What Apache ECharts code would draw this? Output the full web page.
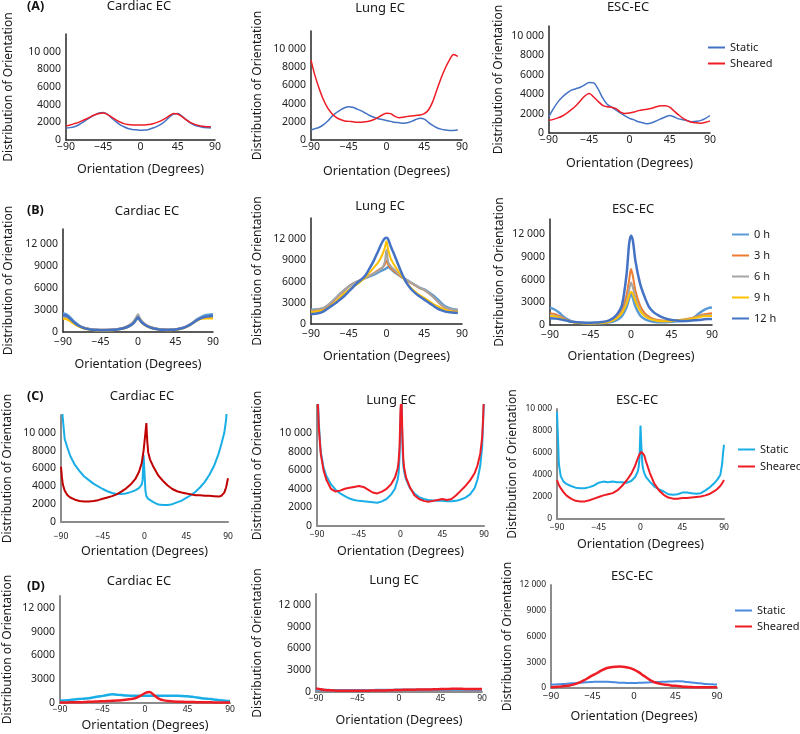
<!DOCTYPE html>
<html><head><meta charset="utf-8">
<script src="https://cdn.jsdelivr.net/npm/echarts@6/dist/echarts.min.js"></script>
<style>html,body{margin:0;padding:0;background:#fff}#c{width:800px;height:734px}</style>
</head><body><div id="c"></div>
<script>
// ---------- DATA ----------
const DEG5 = [-90,-85,-80,-75,-70,-65,-60,-55,-50,-45,-40,-35,-30,-25,-20,-15,-10,-5,0,5,10,15,20,25,30,35,40,45,50,55,60,65,70,75,80,85,90];
const DEGB = [-90,-85,-80,-75,-70,-65,-60,-55,-50,-45,-40,-35,-30,-25,-20,-15,-10,-5,-2,0,2,5,10,15,20,25,30,35,40,45,50,55,60,65,70,75,80,85,90];
const DEGC = [-90,-89,-88,-86,-83,-80,-75,-70,-65,-60,-55,-50,-45,-40,-35,-30,-25,-20,-15,-10,-6,-3,-2,-1,0,1,2,3,4,6,10,15,20,25,30,35,40,45,50,55,60,65,70,75,80,83,86,88,89,90];

// (A) static vs sheared
const a1Static  = [1350,1400,1500,1700,2000,2300,2600,2850,3050,3100,2900,2500,2100,1750,1500,1300,1200,1150,1100,1120,1200,1350,1550,1800,2150,2600,2950,3000,2700,2300,1950,1700,1550,1450,1400,1350,null];
const a1Sheared = [1600,1700,1850,2000,2200,2400,2650,2850,3000,3050,2900,2600,2300,2050,1850,1750,1700,1700,1700,1700,1750,1850,2000,2200,2450,2750,3000,2950,2650,2300,2000,1800,1650,1550,1500,1500,null];
const a2Static  = [1100,1250,1400,1700,2100,2600,3000,3300,3550,3650,3600,3400,3200,2950,2700,2500,2350,2250,2150,2050,1950,1900,1850,1900,2050,2250,2400,2300,1950,1600,1350,1200,1100,1050,1050,1100,null];
const a2Sheared = [8800,7000,5600,4400,3500,2900,2500,2250,2100,2050,2000,1950,1950,2000,2100,2250,2500,2750,2950,2900,2600,2450,2500,2600,2650,2700,2750,2900,3300,4200,5500,6800,7900,8800,9400,9200,null];
const a3Static  = [1700,2500,3200,3700,4100,4400,4550,4700,4950,5200,5150,4500,3600,2950,2650,2350,2050,1750,1500,1350,1150,1050,950,1050,1250,1450,1650,1800,1650,1450,1350,1250,1150,1200,1300,1500,1800];
const a3Sheared = [1300,1400,1550,1750,2050,2400,2800,3300,3800,4050,3700,3250,2850,2700,2650,2500,2150,2000,2050,2150,2300,2400,2450,2550,2700,2800,2800,2650,2250,1850,1500,1250,1100,1050,1000,1100,1250];

// (B) time course 0-12 h
const b1h0  = [2500,2350,1800,1250,850,600,450,350,300,280,270,280,300,350,450,600,850,1300,1800,2100,1700,1250,850,620,470,380,320,300,310,350,450,600,850,1200,1650,2000,2250,2350,2400];
const b1h3  = [1900,1800,1450,1050,780,580,440,360,310,290,290,300,330,400,500,680,950,1450,1950,2250,1850,1400,950,680,510,410,360,340,350,390,480,630,880,1220,1580,1850,1950,1950,1950];
const b1h6  = [2050,1950,1550,1100,800,590,450,360,310,290,290,300,330,400,510,700,980,1500,2050,2400,1950,1450,980,700,520,420,360,340,350,390,480,640,900,1250,1620,1900,2050,2100,2100];
const b1h9  = [1800,1700,1350,950,680,480,350,270,220,200,200,210,240,300,390,550,800,1250,1700,2000,1600,1200,800,550,400,310,260,240,250,290,380,530,780,1120,1480,1750,1850,1850,1850];
const b1h12 = [2300,2150,1650,1150,780,530,390,300,260,250,250,260,290,340,430,580,830,1250,1700,2000,1650,1250,850,600,440,350,300,280,290,330,430,580,820,1150,1550,1850,2050,2150,2200];
const b2h0  = [2000,2050,2100,2200,2600,3100,3700,4300,4800,5300,5700,6000,6250,6500,6750,7000,7300,7600,7750,7900,8050,7800,7300,6900,6500,6150,5800,5450,5100,4900,4500,4100,3600,3000,2500,2250,2100,2000,null];
const b2h3  = [1900,1950,2000,2150,2550,3050,3650,4250,4800,5300,5700,6000,6250,6550,6850,7200,7600,8000,8400,9000,8400,7900,7400,6900,6500,6100,5750,5400,5050,4800,4400,3900,3300,2700,2300,2100,1950,1900,null];
const b2h6  = [2000,2050,2150,2300,2700,3200,3750,4350,4850,5300,5700,6000,6250,6550,6850,7150,7500,7950,8800,10500,8800,8200,7600,7000,6600,6200,5800,5450,5100,4850,4400,3900,3300,2750,2350,2150,2050,2000,null];
const b2h9  = [1700,1750,1850,1950,2300,2700,3200,3800,4350,4800,5250,5650,6100,6650,7300,8000,8700,9800,10800,11700,10500,9300,8200,7300,6500,5700,5000,4500,4050,3700,3300,2900,2550,2250,2000,1850,1750,1700,null];
const b2h12 = [1400,1450,1550,1800,2200,2600,3000,3500,4000,4600,5200,5800,6300,6900,7900,9000,10300,11600,12100,12200,12000,11000,9600,8100,6700,5600,4850,4300,3850,3450,3050,2650,2250,1950,1750,1650,1600,1550,null];
const b3h0  = [2300,2050,1650,1100,700,450,320,260,230,220,220,230,260,320,450,700,1200,2300,3500,4200,3600,2400,1300,800,550,420,370,350,380,420,480,520,560,700,1000,1500,1900,2200,2300];
const b3h3  = [1550,1450,1200,900,600,400,300,250,230,220,230,250,300,420,650,1100,2000,3900,6000,7400,6500,4500,2600,1600,1100,800,650,580,560,570,620,680,750,850,1000,1200,1400,1500,1550];
const b3h6  = [1300,1250,1050,800,550,380,290,250,230,220,230,250,300,410,620,1000,1700,3100,4700,5600,5000,3600,2100,1300,900,680,560,510,500,520,570,630,700,800,930,1100,1250,1300,1300];
const b3h9  = [1200,1150,980,750,520,360,280,240,220,210,220,240,290,400,600,950,1600,2800,3900,4400,4100,3100,1900,1200,850,650,540,500,490,510,560,620,680,760,880,1020,1150,1200,1200];
const b3h12 = [880,850,800,650,530,420,350,320,300,300,320,360,440,580,880,1500,2650,6600,10800,11800,11200,8400,5500,3750,2400,1700,1300,1000,800,660,580,540,530,560,620,660,740,800,800];

// (C) static vs sheared
const c1Static  = [14000,13000,11500,9300,8300,7400,6400,5700,5100,4700,4300,4000,3700,3450,3250,3150,3150,3200,3350,3550,3800,4200,4700,7500,5500,3500,2900,2700,2600,2450,2200,1950,1900,1900,2000,2200,2400,2700,3000,3400,3900,4500,5300,6300,7700,8800,10000,11500,13000,14000];
const c1Sheared = [6200,5000,4200,3500,3000,2750,2500,2350,2300,2300,2350,2450,2600,2750,2900,3100,3400,3750,4200,4800,5600,6600,7300,8000,9000,10000,11100,9000,7800,7000,6100,5200,4600,4100,3700,3450,3300,3200,3100,3000,3000,2950,2950,2900,2850,2950,3300,3900,4400,4900];
const c2Static  = [14000,13500,11000,8000,6300,5400,4500,3900,3500,3200,2950,2800,2700,2650,2600,2550,2500,2650,2900,3400,4000,5000,5700,7500,11500,14000,9000,6500,5800,5000,4100,3500,3100,2900,2800,2750,2700,2700,2650,2650,2700,2850,3050,3400,4100,5000,6500,8500,11000,14000];
const c2Sheared = [14000,13000,10500,7800,6000,5000,4000,3700,3800,4000,4100,4200,4300,4200,3900,3600,3500,3700,4000,4500,5200,6200,7000,8500,12500,14000,10000,7200,6200,5200,4200,3300,2900,2700,2600,2700,2800,2900,2800,2900,3300,3800,4300,4900,5700,6500,7800,9500,11500,14000];
const c3Static  = [9750,7500,5000,3900,3400,3200,3000,2850,2800,2800,2900,3050,3300,3400,3350,3400,3350,3350,3300,3450,3800,4300,4700,5600,8500,6500,5000,4500,4200,3800,3400,2950,2700,2500,2250,2200,2250,2400,2400,2350,2300,2350,2600,2900,3300,3600,4000,5000,6000,6750];
const c3Sheared = [3550,3300,3100,2800,2450,2150,1850,1650,1600,1600,1700,1850,2000,2150,2250,2350,2600,3000,3500,4100,4800,5500,5700,5900,6000,6100,6100,6000,5800,5200,4200,3200,2600,2200,1950,1850,1850,1900,1900,1950,2000,2050,2150,2300,2550,2750,3000,3250,3400,3550];

// (D) static vs sheared
const d1Static  = [280,320,370,430,490,550,610,700,810,900,1000,1100,1050,1000,950,930,930,920,900,900,900,900,900,900,900,900,870,850,780,700,610,550,490,420,340,280,240];
const d1Sheared = [50,60,80,90,100,120,150,170,200,220,250,280,300,350,420,500,620,900,1250,1380,930,530,330,250,200,170,150,130,120,110,100,90,80,70,60,55,50];
const d2Static  = [350,300,280,260,250,250,250,250,250,250,250,250,250,260,260,270,280,290,300,300,300,300,300,300,300,300,300,300,300,300,300,300,300,300,300,300,300];
const d2Sheared = [500,380,280,230,200,180,170,170,170,170,170,180,190,200,210,220,240,260,280,300,310,320,330,340,350,360,380,400,420,430,440,440,430,420,420,420,420];
const d3Static  = [400,420,450,480,520,560,600,640,680,710,740,740,720,700,660,620,600,580,580,600,620,650,680,700,720,740,760,780,780,740,680,620,560,500,460,430,400];
const d3Sheared = [80,120,160,220,300,420,600,850,1150,1470,1750,2050,2300,2420,2480,2500,2450,2350,2150,1850,1470,1100,780,580,450,370,300,250,200,150,120,100,90,80,80,80,80];

const TITLES = ['Cardiac EC','Lung EC','ESC-EC'];
const PANEL_LABELS = ['(A)','(B)','(C)','(D)'];
const NAMES_AD = ['Static','Sheared'];
const NAMES_B = ['0 h','3 h','6 h','9 h','12 h'];
const X_NAME = 'Orientation (Degrees)';
const Y_NAME = 'Distribution of Orientation';

// ---------- STYLE / LAYOUT ----------
const FONT = '"Noto Sans","Open Sans",sans-serif';
const BLUE_A = '#4472C4', RED = '#EE1C25', CYAN = '#1AAEE6', DARKRED = '#C00000';
const B_COLORS = ['#5B9BD5','#ED7D31','#A5A5A5','#FFC000','#4472C4'];

const panels = [
 // row A
 {t:0,tx:139,ty:8,g:[66,34,149,106],max:12000,lmax:10000,iv:2000,ax:'#262626',aw:1.5,yl:10.5,xl:10.5,xm:2,xg:23,yg:51,deg:DEG5,
  s:[[a1Static,BLUE_A,1.5],[a1Sheared,RED,1.5]],smooth:0.3},
 {t:1,tx:380,ty:10,g:[311,31,151,109],max:12000,lmax:10000,iv:2000,ax:'#262626',aw:1.5,yl:10.5,xl:10.5,xm:2,xg:25,yg:47,deg:DEG5,
  s:[[a2Static,BLUE_A,1.5],[a2Sheared,RED,1.5]],smooth:0.3},
 {t:2,tx:628,ty:9,g:[549,26,161,107],max:11000,lmax:10000,iv:2000,ax:'#262626',aw:1.5,yl:10.5,xl:10.5,xm:2,xg:24,yg:44,deg:DEG5,
  s:[[a3Static,BLUE_A,1.5],[a3Sheared,RED,1.5]],smooth:0.3},
 // row B
 {t:0,tx:147,ty:213,g:[63,229,150,103],max:14000,lmax:12000,iv:3000,ax:'#262626',aw:1.5,yl:10.5,xl:10.5,xm:5,xg:26,yg:48,deg:DEGB,
  s:[[b1h0,B_COLORS[0],2.5],[b1h3,B_COLORS[1],2],[b1h6,B_COLORS[2],2],[b1h9,B_COLORS[3],2],[b1h12,B_COLORS[4],2.5]],smooth:0.3},
 {t:1,tx:380,ty:208,g:[311,218,151,106],max:15000,lmax:12000,iv:3000,ax:'#262626',aw:1.5,yl:10.5,xl:10.5,xm:5,xg:26,yg:47,deg:DEGB,
  s:[[b2h0,B_COLORS[0],2.5],[b2h3,B_COLORS[1],2],[b2h6,B_COLORS[2],2],[b2h9,B_COLORS[3],2],[b2h12,B_COLORS[4],2.5]],smooth:0.3},
 {t:2,tx:633,ty:211,g:[550,219,162,106],max:14000,lmax:12000,iv:3000,ax:'#262626',aw:1.5,yl:10.5,xl:10.5,xm:5,xg:25,yg:44,deg:DEGB,
  s:[[b3h0,B_COLORS[0],2.5],[b3h3,B_COLORS[1],2],[b3h6,B_COLORS[2],2],[b3h9,B_COLORS[3],2],[b3h12,B_COLORS[4],2.5]],smooth:0.3},
 // row C
 {t:0,tx:142,ty:398,g:[61,415,167,107],max:12000,lmax:10000,iv:2000,ax:'#8c8c8c',aw:2,yl:10.5,xl:8.5,xm:10,xg:23,yg:47,deg:DEGC,
  s:[[c1Static,CYAN,2],[c1Sheared,DARKRED,2]],smooth:false},
 {t:1,tx:391,ty:402,g:[317,405,167,121],max:13000,lmax:10000,iv:2000,ax:'#8c8c8c',aw:2,yl:10.5,xl:8.5,xm:4,xg:19,yg:53,deg:DEGC,
  s:[[c2Static,CYAN,2],[c2Sheared,RED,2]],smooth:false},
 {t:2,tx:637,ty:402,g:[557,409,167,110],max:10000,lmax:10000,iv:2000,ax:'#8c8c8c',aw:2,yl:8.5,xl:8.5,xm:4,xg:19,yg:38,deg:DEGC,
  s:[[c3Static,CYAN,2],[c3Sheared,RED,2]],smooth:false},
 // row D
 {t:0,tx:139,ty:583,g:[60,596,170,107],max:13500,lmax:12000,iv:3000,ax:'#8c8c8c',aw:2,yl:10.5,xl:8.5,xm:2,xg:16,yg:46,deg:DEG5,
  s:[[d1Static,CYAN,2.5],[d1Sheared,RED,2.5]],smooth:0.3},
 {t:1,tx:394,ty:582,g:[316,594,166,98],max:13500,lmax:12000,iv:3000,ax:'#8c8c8c',aw:2,yl:10.5,xl:8.5,xm:2,xg:22,yg:52,deg:DEG5,
  s:[[d2Static,'#5B9BD5',2.5],[d2Sheared,RED,2.5]],smooth:0.3},
 {t:2,tx:632,ty:578,g:[551,585,166,103],max:12000,lmax:12000,iv:3000,ax:'#8c8c8c',aw:2,yl:8.5,xl:9.5,xm:3,xg:22,yg:37,deg:DEG5,
  s:[[d3Static,'#4A8BE0',2],[d3Sheared,RED,2.5]],smooth:0.3}
];

function fmt(v){
  if (v < 0) return '\u2212' + Math.abs(v);
  if (v >= 10000) return Math.floor(v/1000) + ' ' + String(v % 1000).padStart(3,'0');
  return String(v);
}

const option = {
  backgroundColor:'#fff',
  animation:false,
  title:[], grid:[], xAxis:[], yAxis:[], series:[], legend:[]
};

const rowLabelY = [8,212,398,588];
PANEL_LABELS.forEach((lab,r)=>{
  option.title.push({text:lab,left:27,top:rowLabelY[r]-8,padding:0,
    textStyle:{fontFamily:FONT,fontSize:12.5,fontWeight:'bold',color:'#111'}});
});

panels.forEach((p,i)=>{
  const row = Math.floor(i/3);
  option.title.push({text:TITLES[p.t],left:p.tx,top:p.ty-8,textAlign:'center',padding:0,
    textStyle:{fontFamily:FONT,fontSize:13,fontWeight:'normal',color:'#1a1a1a'}});
  option.grid.push({left:p.g[0],top:p.g[1],width:p.g[2],height:p.g[3],containLabel:false,outerBoundsMode:'none'});
  option.xAxis.push({gridIndex:i,type:'value',min:-90,max:90,interval:45,
    axisLine:{show:true,onZero:false,lineStyle:{color:p.ax,width:p.aw}},
    axisTick:{show:false},splitLine:{show:false},
    axisLabel:{formatter:fmt,fontFamily:FONT,fontSize:p.xl,color:'#222',margin:p.xm,hideOverlap:false},
    name:X_NAME,nameLocation:'middle',nameGap:p.xg,
    nameTextStyle:{fontFamily:FONT,fontSize:12.5,color:'#1a1a1a'}});
  const lmax = p.lmax;
  option.yAxis.push({gridIndex:i,type:'value',min:0,max:p.max,interval:p.iv,
    axisLine:{show:true,onZero:false,lineStyle:{color:p.ax,width:p.aw}},
    axisTick:{show:false},splitLine:{show:false},
    axisLabel:{formatter:v=> v>lmax ? '' : fmt(v),fontFamily:FONT,fontSize:p.yl,color:'#222',margin:5,hideOverlap:false},
    name:Y_NAME,nameLocation:'middle',nameGap:p.yg,
    nameTextStyle:{fontFamily:FONT,fontSize:12,color:'#1a1a1a'}});
  const names = row===1 ? NAMES_B : NAMES_AD;
  p.s.forEach((s,k)=>{
    option.series.push({type:'line',name:names[k],xAxisIndex:i,yAxisIndex:i,
      data:p.deg.map((d,j)=>[d,s[0][j]]),
      symbol:'none',smooth:p.smooth,clip:true,
      lineStyle:{color:s[1],width:s[2]},itemStyle:{color:s[1]},
      z: row===1 && k===0 ? 1 : 2});
  });
});

const legendText = {fontFamily:FONT,fontSize:11,color:'#1a1a1a'};
function lg(left,top,gap,items){
  return {left:left,top:top,orient:'vertical',icon:'rect',itemWidth:17,itemHeight:2,itemGap:gap,
    padding:0,selectedMode:false,textStyle:legendText,
    data:items.map(it=>({name:it[0],itemStyle:{color:it[1]},lineStyle:{color:it[1]}}))};
}
option.legend.push(lg(708,42,5,[['Static',BLUE_A],['Sheared',RED]]));
option.legend.push(lg(732,229,10,NAMES_B.map((n,k)=>[n,B_COLORS[k]])));
option.legend.push(lg(738,444,6,[['Static',CYAN],['Sheared',RED]]));
option.legend.push(lg(735,605,5,[['Static','#4A8BE0'],['Sheared',RED]]));

const chart = echarts.init(document.getElementById('c'),null,{renderer:'canvas'});
chart.setOption(option);
</script>
</body></html>
